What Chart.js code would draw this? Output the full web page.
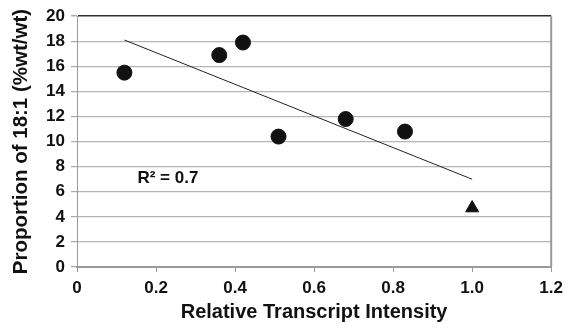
<!DOCTYPE html>
<html>
<head>
<meta charset="utf-8">
<script src="https://cdn.jsdelivr.net/npm/chart.js@4/dist/chart.umd.min.js"></script>
<style>
  body { margin: 0; background: #fff; }
  #wrap { width: 569px; height: 328px; }
</style>
</head>
<body>
<div id="wrap"><canvas id="grafico"></canvas></div>
<script>
// data
const intensidad = [0.12, 0.36, 0.42, 0.51, 0.68, 0.83];
const proporcion = [15.5, 16.9, 17.9, 10.4, 11.8, 10.8];
const atipicoX = [1.0];
const atipicoY = [4.7];
const tendenciaX = [0.12, 1.0];
const tendenciaY = [18.1, 7.0];
const etiquetaR2 = "R² = 0.7";

const fuente = "'Liberation Sans', Arial, sans-serif";
const aPuntos = (xs, ys) => xs.map((x, i) => ({ x, y: ys[i] }));

// R² text + right border of the plot box
const extras = {
  id: "extras",
  afterDraw(chart) {
    const { ctx, chartArea, scales } = chart;
    ctx.save();
    ctx.strokeStyle = "#999";
    ctx.lineWidth = 2;
    ctx.beginPath();
    ctx.moveTo(chartArea.right, chartArea.top);
    ctx.lineTo(chartArea.right, chartArea.bottom);
    ctx.stroke();
    ctx.font = "bold 17px " + fuente;
    ctx.fillStyle = "#111";
    ctx.textAlign = "center";
    ctx.textBaseline = "middle";
    ctx.fillText(etiquetaR2, scales.x.getPixelForValue(0.23), scales.y.getPixelForValue(7.1));
    ctx.restore();
  }
};

const ctx = document.getElementById("grafico").getContext("2d");
new Chart(ctx, {
  type: "scatter",
  data: {
    datasets: [
      {
        label: "muestras",
        data: aPuntos(intensidad, proporcion),
        backgroundColor: "#111",
        borderColor: "#111",
        pointRadius: 7.5,
        pointHoverRadius: 7.5
      },
      {
        label: "atipico",
        data: aPuntos(atipicoX, atipicoY),
        pointStyle: "triangle",
        backgroundColor: "#111",
        borderColor: "#111",
        pointRadius: 7.5,
        pointHoverRadius: 7.5
      },
      {
        label: "tendencia",
        type: "line",
        data: aPuntos(tendenciaX, tendenciaY),
        borderColor: "#222",
        borderWidth: 1,
        pointRadius: 0,
        fill: false
      }
    ]
  },
  options: {
    responsive: true,
    maintainAspectRatio: false,
    animation: false,
    layout: { padding: { top: 8, right: 13, left: 0, bottom: 0 } },
    plugins: { legend: { display: false }, tooltip: { enabled: false } },
    scales: {
      x: {
        type: "linear",
        min: 0,
        max: 1.2,
        ticks: { stepSize: 0.2, color: "#111", font: { family: fuente, size: 17, weight: "bold" }, padding: 6 },
        grid: { drawOnChartArea: false, drawTicks: true, tickLength: 5, color: "#999" },
        border: { color: "#999", width: 2 },
        title: {
          display: true,
          text: "Relative Transcript Intensity",
          color: "#111",
          font: { family: fuente, size: 20, weight: "bold" },
          padding: { top: 0, bottom: 4 }
        },
        afterFit: (s) => { s.height = 61; }
      },
      y: {
        min: 0,
        max: 20,
        ticks: { stepSize: 2, color: "#111", font: { family: fuente, size: 17, weight: "bold" }, padding: 6 },
        grid: {
          color: (c) => c.tick && c.tick.value === 20 ? "#333" : "#b5b5b5",
          lineWidth: (c) => c.tick && c.tick.value === 20 ? 1.5 : 1.2,
          tickLength: 6,
          tickColor: "#aaa"
        },
        border: { color: "#999", width: 1 },
        title: {
          display: true,
          text: "Proportion of 18:1 (%wt/wt)",
          color: "#111",
          font: { family: fuente, size: 20.5, weight: "bold" },
          padding: { top: 9, bottom: 0 }
        },
        afterFit: (s) => { s.width = 77; }
      }
    }
  },
  plugins: [extras]
});
</script>
</body>
</html>
